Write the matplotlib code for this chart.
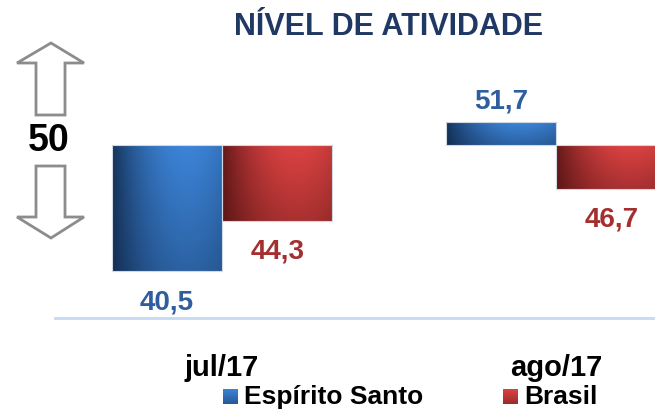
import matplotlib
matplotlib.use("Agg")
import matplotlib.pyplot as plt
import numpy as np
from matplotlib.patches import Polygon, Rectangle
from matplotlib.colors import to_rgb

plt.rcParams["font.family"] = ["Liberation Sans", "DejaVu Sans"]
plt.rcParams["font.weight"] = "bold"

# Data
months = ["jul/17", "ago/17"]
series = ["Espírito Santo", "Brasil"]
es_values = [40.5, 51.7]
br_values = [44.3, 46.7]
baseline = 50

colors_light = {"Espírito Santo": "#3C84D8", "Brasil": "#DC4242"}
colors_dark = {"Espírito Santo": "#0D2240", "Brasil": "#4A1010"}
label_colors = {"Espírito Santo": "#2E5E9E", "Brasil": "#A52E2E"}


def gradient_fill(ax, patch, light, dark, h_shape=True):
    x0, y0 = patch.get_x(), patch.get_y()
    w, h = patch.get_width(), patch.get_height()
    nx, ny = 120, 80
    t = np.linspace(0, 1, nx)
    s = np.linspace(0, 1, ny)
    T, S = np.meshgrid(t, s)  # S = 0 at top row (imshow origin upper)
    if h_shape:
        horiz = np.clip(1 - ((T - 0.68) / 0.75) ** 2, 0, 1)
        vert = 1 - 0.35 * S
    else:
        horiz = np.ones_like(T)
        vert = 1 - 0.45 * S
    f = np.clip(horiz * vert, 0, 1)[..., None]
    lo, hi = np.array(to_rgb(dark)), np.array(to_rgb(light))
    img = lo + (hi - lo) * f
    top, bottom = max(y0, y0 + h), min(y0, y0 + h)
    if ax.yaxis_inverted():
        top, bottom = bottom, top
    im = ax.imshow(img, extent=[x0, x0 + w, bottom, top], aspect="auto",
                   origin="upper", zorder=2, interpolation="bilinear")
    im.set_clip_path(patch)


def main():
    fig = plt.figure(figsize=(6.55, 4.11), dpi=100)
    ax = fig.add_axes([55 / 655, 93 / 411, 600 / 655, 318 / 411])
    ax.patch.set_alpha(0)

    x = np.arange(len(months))
    width = 0.33
    groups = [("Espírito Santo", es_values, -width / 2),
              ("Brasil", br_values, width / 2)]
    for name, vals, off in groups:
        heights = [v - baseline for v in vals]
        bars = ax.bar(x + off, heights, width, bottom=baseline,
                      color="none", edgecolor="#D0D8E4", linewidth=0.8, zorder=3)
        for bar, v in zip(bars, vals):
            gradient_fill(ax, bar, colors_light[name], colors_dark[name])
            label = f"{v:.1f}".replace(".", ",")
            if v < baseline:
                ypos = v - 2.3
            else:
                ypos = v + 1.6
            ax.text(bar.get_x() + bar.get_width() / 2, ypos, label,
                    ha="center", va="center", fontsize=20, fontweight="bold",
                    color=label_colors[name])

    ax.set_xlim(-0.5, 1.296)
    ax.set_ylim(37, 60.9)
    for side in ["top", "right", "left"]:
        ax.spines[side].set_visible(False)
    ax.spines["bottom"].set_color("#C6D9F0")
    ax.spines["bottom"].set_linewidth(2)
    ax.set_yticks([])
    ax.set_xticks(x)
    ax.set_xticklabels(months, fontsize=21, fontweight="bold")
    ax.tick_params(axis="x", length=0, pad=26)

    # Title
    fig.text(389 / 655, 1 - 27 / 411, "NÍVEL DE ATIVIDADE", ha="center",
             va="center", fontsize=22, fontweight="bold", color="#1F3864")

    # Arrows around 50 (pixel overlay)
    ov = fig.add_axes([0, 0, 1, 1], zorder=5)
    ov.set_xlim(0, 655)
    ov.set_ylim(411, 0)
    ov.axis("off")
    up = [(51, 43), (84, 63), (65, 63), (65, 115), (36, 115), (36, 63), (17, 63)]
    down = [(36, 166), (65, 166), (65, 217), (84, 217), (51, 238), (17, 217), (36, 217)]
    for pts in (up, down):
        ov.add_patch(Polygon(pts, closed=True, facecolor="white",
                             edgecolor="#8C8C8C", linewidth=2))
    fig.text(49 / 655, 1 - 141 / 411, "50", ha="center", va="center",
             fontsize=27, fontweight="bold", color="black")

    # Legend
    leg_y = 1 - 397 / 411
    for name, xs in [("Espírito Santo", 223), ("Brasil", 503)]:
        sq = Rectangle((xs, 389), 15, 15, facecolor="none", edgecolor="none")
        ov.add_patch(sq)
        gradient_fill(ov, sq, colors_light[name], colors_dark[name], h_shape=False)
        fig.text((xs + 21) / 655, leg_y, name, ha="left", va="center",
                 fontsize=19, fontweight="bold", color="black")
    ov.set_xlim(0, 655)
    ov.set_ylim(411, 0)

    fig.savefig("out.png", dpi=100)


if __name__ == "__main__":
    main()
